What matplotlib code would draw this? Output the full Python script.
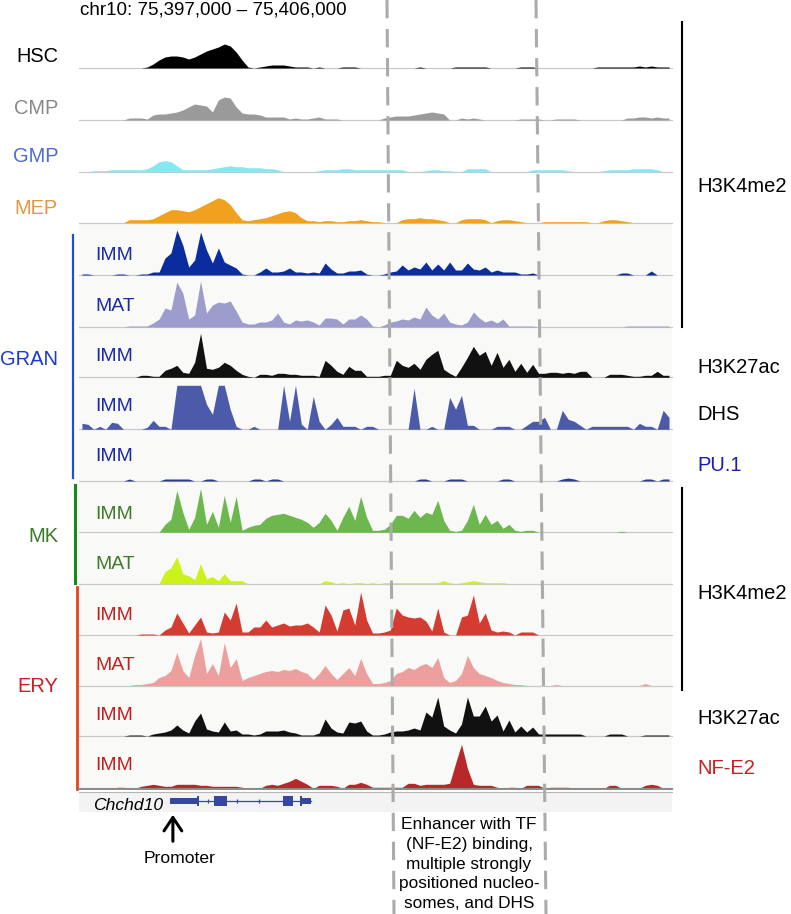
import numpy as np
import matplotlib
matplotlib.use("Agg")
import matplotlib.pyplot as plt
from matplotlib.lines import Line2D
from matplotlib.patches import Rectangle, FancyArrowPatch

# ---------------- data ----------------
REGION_START, REGION_END = 75397000, 75406000
TITLE = "chr10: 75,397,000 \u2013 75,406,000"

HSC = [0,0,0,0,0,0,0,0,0,0, 0,1,4,8,11,12,12,11,9,11, 14,17,19,21,24,22,16,8,1,0,
       1,2,3,3,3,2,1,1,1,0, 1,0,0,0,1,1,1,0,0,0, 0,0,0,0,0,0,0,1,0,0,
       0,0,0,1,1,1,1,1,1,0, 0,0,0,0,1,1,1,0,0,0, 0,0,0,0,0,0,0,1,1,1,
       1,1,1,1,2,1,2,1,1,1]
CMP = [0,0,0,0,0,0,0,0,2,2, 2,1,5,6,6,7,8,10,13,16, 15,14,8,20,23,22,13,7,6,6,
       5,3,3,3,3,1,2,1,1,2, 3,1,1,1,0,0,0,0,0,0, 0,2,3,4,4,4,5,6,7,8,
       7,6,0,0,2,1,2,1,0,0, 0,0,0,0,1,1,1,1,0,0, 1,1,1,1,0,0,0,0,0,0,
       0,0,2,2,3,3,2,3,2,2]
GMP = [0,0,1,1,1,2,2,2,2,2, 2,3,6,10,11,10,6,2,2,2, 2,2,3,4,5,6,5,5,4,4,
       4,3,3,2,0,0,0,0,0,0, 1,2,2,2,3,3,2,2,2,2, 2,2,2,2,2,0,0,0,1,2,
       2,1,1,0,0,3,3,3,3,0, 0,0,0,0,0,0,2,2,2,2, 2,2,1,0,0,0,0,0,1,2,
       2,2,2,3,3,3,3,2,0,0]
MEP = [0,0,0,0,0,0,0,0,3,3, 3,3,4,7,10,13,13,12,11,13, 16,19,22,25,23,18,10,3,2,3,
       4,5,7,9,11,12,10,5,2,2, 1,2,2,1,1,2,2,3,2,1, 1,0,0,0,3,4,4,5,4,4,
       3,2,0,0,3,4,4,4,3,0, 2,3,3,2,1,0,0,0,1,1, 1,1,1,1,1,1,0,0,2,3,
       3,2,1,0,0,0,0,0,0,0]
GRAN_IMM = [1,1,0,0,0,0,1,1,0,0, 1,1,3,3,17,22,45,30,8,15, 43,25,12,27,13,10,7,1,0,0,
            3,7,3,3,4,7,3,3,2,3, 2,12,6,2,2,4,4,5,1,0, 0,1,3,4,10,5,8,6,13,5,
            11,5,13,5,5,12,6,5,8,3, 5,3,3,3,1,1,2,0,0,0, 0,0,0,0,0,0,0,0,0,0,
            0,2,2,0,0,0,4,0,0,0]
GRAN_MAT = [0,0,0,0,0,0,0,0,1,1, 1,1,4,8,19,17,45,34,8,12, 46,14,22,25,24,26,16,5,3,3,
            5,5,7,14,5,3,7,6,7,5, 2,9,9,8,3,8,8,12,8,1, 0,2,5,6,8,7,10,8,20,12,
            8,14,5,3,2,5,15,9,5,7, 4,8,1,1,1,1,1,0,0,0, 0,0,0,0,0,0,0,0,0,0,
            0,0,1,1,1,1,1,1,1,1]
GRAN_K27AC = [0,0,0,0,0,0,0,0,0,0, 2,2,1,1,7,9,12,5,4,15, 44,9,8,10,15,12,7,3,1,0,
              3,3,2,4,4,3,3,2,2,2, 1,17,12,6,3,11,7,7,1,1, 1,2,2,17,12,10,14,8,18,23,
              27,8,4,1,10,20,31,22,26,12, 25,10,18,6,14,5,13,4,4,5, 5,4,5,4,6,6,0,0,0,3,
              3,3,2,1,1,2,2,6,2,2]
GRAN_DHS = [6,5,0,3,0,7,6,0,0,0, 0,2,9,3,3,0,44,44,44,44, 44,25,15,44,44,20,3,0,0,3,
            0,0,0,0,44,8,44,5,0,33, 8,0,5,12,3,3,3,0,3,3, 0,0,0,0,0,0,41,0,0,3,
            0,0,32,20,34,4,4,0,0,0, 3,3,3,0,0,4,8,8,12,0, 0,19,10,8,4,0,3,3,3,3,
            3,3,3,0,6,3,3,0,19,12]
GRAN_PU1 = [0,0,0,0,0,0,0,0,2,0, 0,0,0,0,2,2,2,2,2,0, 0,2,2,0,0,0,0,0,0,2,
            2,0,2,2,0,0,0,0,0,0, 0,0,0,0,0,0,0,0,0,0, 0,0,0,0,0,0,0,2,2,0,
            0,0,2,2,2,0,0,0,0,0, 0,2,2,0,0,0,0,0,0,0, 0,2,3,2,0,0,0,0,0,0,
            0,0,0,0,0,2,2,0,2,2]
MK_IMM = [0,0,0,0,0,0,0,0,0,0, 0,0,0,0,8,13,42,20,3,15, 44,8,21,5,37,10,36,2,5,7,
          8,14,17,18,19,17,15,13,10,5, 10,19,12,2,15,26,12,36,15,2, 2,3,8,17,17,14,22,15,20,18,
          32,12,2,1,2,12,28,8,18,8, 12,4,8,2,1,2,2,0,0,0, 0,0,0,0,0,0,0,0,0,0,
          0,1,0,0,0,0,0,0,0,0]
MK_MAT = [0,0,0,0,0,0,0,0,0,0, 0,0,0,0,12,16,27,10,8,4, 20,5,7,3,10,3,3,3,0,0,
          0,0,0,0,0,0,0,0,0,0, 0,3,2,0,1,0,1,1,0,1, 0,1,1,1,1,1,1,1,1,1,
          1,3,1,0,1,2,3,2,1,1, 1,1,0,0,0,0,0,0,0,0, 0,0,0,0,0,0,0,0,0,0,
          0,0,0,0,0,0,0,0,0,0]
ERY_IMM = [0,0,0,0,0,0,0,0,0,0, 1,1,1,0,5,8,22,12,2,10, 18,3,2,3,23,15,32,3,3,8,
           8,15,8,10,12,9,10,10,12,8, 3,30,20,4,25,27,10,43,15,2, 2,3,5,27,20,18,17,18,14,4,
           27,3,0,0,18,20,40,12,22,5, 3,4,3,0,3,3,3,0,0,0, 0,0,0,0,0,0,0,0,0,0,
           0,0,0,0,0,0,0,0,0,0]
ERY_MAT = [0,0,0,0,0,0,0,0,0,1, 1,2,3,8,10,15,33,15,8,30, 47,12,22,10,43,18,27,5,8,10,
           12,14,15,14,16,15,17,14,12,6, 12,20,12,6,12,18,10,27,12,2, 2,3,5,12,14,18,16,20,22,18,
           28,8,3,5,12,30,18,12,10,8, 5,3,2,1,1,0,0,0,0,0, 1,0,0,0,0,0,0,0,0,0,
           0,0,0,0,0,2,0,0,0,0]
ERY_K27AC = [0,0,0,0,0,0,0,0,1,1, 1,0,2,3,4,6,11,6,3,15, 23,7,5,4,14,5,6,2,2,1,
             2,5,5,5,6,4,3,1,1,1, 3,17,8,4,3,14,13,15,5,1, 1,2,4,5,5,6,8,6,24,19,
             39,10,6,3,12,39,20,20,30,15, 21,5,16,4,10,4,9,2,2,2, 2,2,2,2,2,0,0,0,0,2,
             2,2,0,0,0,1,1,1,1,1]
ERY_NFE2 = [0,0,0,0,0,0,1,1,0,0, 2,3,4,3,2,2,4,4,4,4, 3,3,2,2,2,2,2,1,0,0,
            0,3,4,3,5,7,10,7,4,0, 3,3,3,2,0,4,4,6,4,1, 1,1,1,1,1,5,5,3,4,4,
            4,4,5,25,44,20,4,3,3,3, 1,0,1,1,0,3,3,3,0,1, 1,1,1,0,0,0,0,0,0,3,
            3,0,0,0,0,3,4,3,0,0]

TRACKS = [HSC, CMP, GMP, MEP, GRAN_IMM, GRAN_MAT, GRAN_K27AC, GRAN_DHS, GRAN_PU1,
          MK_IMM, MK_MAT, ERY_IMM, ERY_MAT, ERY_K27AC, ERY_NFE2]
TRACK_LABELS = ["HSC", "CMP", "GMP", "MEP", "IMM", "MAT", "IMM", "IMM", "IMM",
                "IMM", "MAT", "IMM", "MAT", "IMM", "IMM"]
GROUP_LABELS = ["GRAN", "MK", "ERY"]
MARK_LABELS = ["H3K4me2", "H3K27ac", "DHS", "PU.1", "H3K4me2", "H3K27ac", "NF-E2"]

GENE_NAME = "Chchd10"
GENE_SPAN = (75398381, 75400521)
GENE_UTRS = [(75398381, 75398791), (75400385, 75400521)]
GENE_EXONS = [(75398791, 75398821), (75399049, 75399246), (75400096, 75400248), (75400354, 75400385)]
GENE_STRAND_TICKS = [75398958, 75399398, 75399732]
PROMOTER_POS = 75398425
ANNOTATION = "Enhancer with TF\n(NF-E2) binding,\nmultiple strongly\npositioned nucleo-\nsomes, and DHS"

# ---------------- styling ----------------
FILL_COLORS = ["#000000", "#9a9a9a", "#86e9f1", "#f0a11e", "#0b2c9e", "#9d9dcd", "#111111",
               "#4c5ba9", "#2b3b8c", "#6cb84f", "#ccf21c", "#d43b31", "#eca09e", "#111111", "#b8282b"]
LABEL_COLORS = ["#000000", "#888888", "#4f6ad6", "#e39640", "#1a2aa6", "#1a2aa6", "#1a2aa6",
                "#1a2aa6", "#1a2aa6", "#3d7a2a", "#3d7a2a", "#c0201f", "#c0201f", "#c0201f", "#c0201f"]
BASELINES = [68, 120, 171.7, 222.7, 275, 327, 377.3, 429.3, 481, 532.3, 583.7, 635, 685.5, 736, 788.3]
LABEL_Y = [55, 107, 155, 207, 253, 304, 354, 404, 454, 512, 562, 613, 663, 713, 763]

W, H = 791, 914
DPI = 100
X0, X1 = 79, 672
TRACK_H = 50

plt.rcParams['font.family'] = ['Liberation Sans', 'DejaVu Sans']
fig = plt.figure(figsize=(W / DPI, H / DPI), dpi=DPI)
fig.patch.set_facecolor("white")


def fx(px):
    return px / W


def fy(py):
    return 1 - py / H


def ptpx(pt):
    return pt * DPI / 72.0


def label(x, yc, s, size, color, ha="left", family=None, style="normal"):
    kw = {}
    if family:
        kw["family"] = family
    fig.text(fx(x), fy(yc + 0.358 * ptpx(size)), s, fontsize=size, color=color,
             ha=ha, va="baseline", style=style, **kw)


# light background behind the lower tracks
fig.add_artist(Rectangle((fx(X0), fy(BASELINES[-1])), fx(X1) - fx(X0),
                         (BASELINES[-1] - BASELINES[3]) / H, transform=fig.transFigure,
                         facecolor="#f9f9f7", edgecolor="none", zorder=0))

nb = len(HSC)
xc = REGION_START + (np.arange(nb) + 0.5) * (REGION_END - REGION_START) / nb

for i, vals in enumerate(TRACKS):
    base = BASELINES[i]
    ax = fig.add_axes([fx(X0), fy(base), fx(X1) - fx(X0), TRACK_H / H])
    ax.set_xlim(REGION_START, REGION_END)
    ax.set_ylim(0, TRACK_H)
    ax.patch.set_alpha(0)
    for s in ax.spines.values():
        s.set_visible(False)
    ax.set_xticks([])
    ax.set_yticks([])
    v = np.array(vals, dtype=float)
    ax.fill_between(xc, 0, v, color=FILL_COLORS[i], lw=0, zorder=2)
    ax.axhline(0, color="#c9c9c9", lw=0.9, clip_on=False, zorder=1)

# track labels
for i, name in enumerate(TRACK_LABELS):
    if i < 4:
        label(58, LABEL_Y[i], name, 14.4, LABEL_COLORS[i], ha="right")
    else:
        label(95, LABEL_Y[i], name, 14.0, LABEL_COLORS[i], ha="left")

# group labels and side bars
label(58, 358, GROUP_LABELS[0], 14.5, "#1a3ccd", ha="right")
label(58, 535, GROUP_LABELS[1], 14.5, "#3d7a2a", ha="right")
label(58, 685, GROUP_LABELS[2], 14.5, "#c8201f", ha="right")
fig.add_artist(Line2D([fx(73), fx(73)], [fy(235), fy(478)], color="#1f4fd6", lw=1.6))
fig.add_artist(Line2D([fx(75), fx(75)], [fy(485), fy(583)], color="#168a16", lw=2.2))
fig.add_artist(Line2D([fx(77), fx(77)], [fy(587), fy(789)], color="#e8421c", lw=2.0))

# right-hand mark labels and brackets
mark_y = [185, 366, 413, 464, 592, 717, 767]
mark_c = ["#000000", "#000000", "#000000", "#1a1ab4", "#000000", "#000000", "#c8201f"]
for s, yv, c in zip(MARK_LABELS, mark_y, mark_c):
    label(697, yv, s, 14.5, c, ha="left")
fig.add_artist(Line2D([fx(682), fx(682)], [fy(22), fy(327)], color="black", lw=1.5))
fig.add_artist(Line2D([fx(682), fx(682)], [fy(488), fy(690)], color="black", lw=1.5))

# title
label(80, 7.5, TITLE, 13.5, "black", ha="left")

# bottom rule of the track stack
fig.add_artist(Line2D([fx(X0), fx(X1)], [fy(789), fy(789)], color="#8a8a8a", lw=1.4))
fig.add_artist(Line2D([fx(X0), fx(X1)], [fy(792), fy(792)], color="#b5b5b5", lw=0.8))

# gene track
gax = fig.add_axes([fx(X0), fy(812), fx(X1) - fx(X0), 20 / H])
gax.set_xlim(REGION_START, REGION_END)
gax.set_ylim(0, 20)
gax.set_facecolor("#f3f3f3")
for s in gax.spines.values():
    s.set_visible(False)
gax.set_xticks([])
gax.set_yticks([])
gc = "#36479f"
mid = 11
gax.plot(GENE_SPAN, [mid, mid], color=gc, lw=0.9)
gax.broken_barh([(a, b - a) for a, b in GENE_UTRS], (mid - 3, 6), color=gc, lw=0)
gax.broken_barh([(a, b - a) for a, b in GENE_EXONS], (mid - 5, 10), color=gc, lw=0)
gax.plot(GENE_STRAND_TICKS, [mid] * len(GENE_STRAND_TICKS), ls="none", marker="|",
         ms=3, color=gc, mew=0.9)
label(163, 804, GENE_NAME, 12.6, "black", ha="right", style="italic")

# promoter arrow
px_prom = X0 + (PROMOTER_POS - REGION_START) / (REGION_END - REGION_START) * (X1 - X0)
fig.add_artist(FancyArrowPatch((fx(px_prom), fy(844)), (fx(px_prom), fy(812)),
                               transform=fig.transFigure, arrowstyle="->,head_length=0.6,head_width=0.4",
                               mutation_scale=16, lw=2.2, color="black"))
label(180, 857, "Promoter", 12.6, "black", ha="center")

# enhancer dashed lines (slightly slanted as in the scanned figure)
for xa, xb in [(387, 394), (536, 546)]:
    fig.add_artist(Line2D([fx(xa), fx(xb)], [fy(0), fy(914)], color="#ababab", lw=2.2,
                          dashes=(6, 3.5), zorder=5))

fig.text(fx(469), fy(864), ANNOTATION, fontsize=12.4, ha="center", va="center",
         multialignment="center", linespacing=1.4, color="black", zorder=6)

fig.savefig("out.png", dpi=DPI)
